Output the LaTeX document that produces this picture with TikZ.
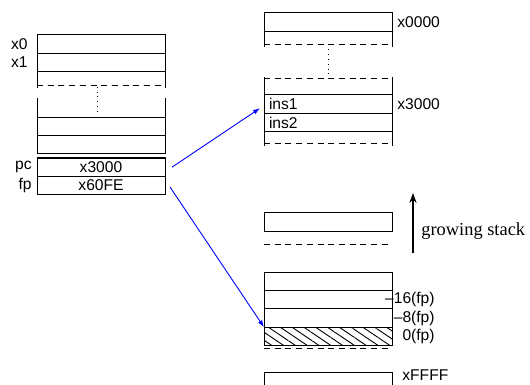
\documentclass[tikz,border=0pt]{standalone}
\usepackage{fontspec}
\setmainfont{Liberation Serif}
\setsansfont{Liberation Sans}
\usepackage{tikz}
\usetikzlibrary{positioning,patterns.meta,arrows.meta}
\tikzstyle{cell} = [draw,line width=0.5pt,minimum width=64pt,minimum height=9.2pt,
    inner sep=0pt,outer sep=0pt,font=\sffamily\fontsize{7.8}{8}\selectfont]
\tikzstyle{insn} = [cell,text width=59pt,inner xsep=2.5pt,align=left]
\tikzstyle{lbl} = [inner sep=0pt,font=\sffamily\fontsize{7.8}{8}\selectfont]
\tikzstyle{gap} = [line width=0.5pt,dash pattern=on 3pt off 2.35pt]
\tikzstyle{ptr} = [blue,line width=0.45pt,-{Latex[length=3.5pt,width=2.4pt]}]
\newcommand{\sidesdown}[2]{
	\draw[line width=0.5pt] (#1.south west) -- ++(0,#2);
	\draw[line width=0.5pt] (#1.south east) -- ++(0,#2);
}
\newcommand{\sidesup}[2]{
	\draw[line width=0.5pt] (#1.north west) -- ++(0,-#2);
	\draw[line width=0.5pt] (#1.north east) -- ++(0,-#2);
}
\newcommand{\gapbelow}[2]{
	\draw[gap] ([yshift=-#2]#1.south west) -- ([yshift=-#2]#1.south east);
}
\newcommand{\gapabove}[2]{
	\draw[gap] ([yshift=#2]#1.north west) -- ([yshift=#2]#1.north east);
}

\begin{document}
\begin{tikzpicture}[x=0.5pt,y=-0.5pt]
	\useasboundingbox (0,0) rectangle (530,385);
	\clip (0,0) rectangle (530,385);

	% registers
	\node(x0) [cell] at (101,44.2) {};
	\node(x1) [cell, below=0pt of x0] {};
	\sidesdown{x1}{16};
	\gapbelow{x1}{7pt};
	\draw[dotted] ([xshift=-2pt,yshift=-7.5pt]x1.south) -- ++(0,25);
	\node(pc) [cell] at (101,167.2) {x3000};
	\node(fp) [cell, below=0pt of pc] {x60FE};
	\node(r4) [cell, above=2pt of pc] {};
	\node(r3) [cell, above=0pt of r4] {};
	\sidesup{r3}{19};

	\node[lbl, anchor=east] at ([xshift=-4.5pt]x0.west) {x0};
	\node[lbl, anchor=east] at ([xshift=-4.5pt]x1.west) {x1};
	\node[lbl, anchor=east] at ([xshift=-2.5pt]pc.west) {pc};
	\node[lbl, anchor=east] at ([xshift=-2.5pt]fp.west) {fp};

	% memory
	\node(m0) [cell] at (328,22.2) {};
	\sidesdown{m0}{16};
	\gapbelow{m0}{6.5pt};
	\draw[dotted] ([yshift=-9pt]m0.south) -- ++(0,27);
	\node(ins1) [insn] at (328,104.2) {ins1};
	\node(ins2) [insn, below=0pt of ins1] {ins2};
	\sidesup{ins1}{18};
	\gapabove{ins1}{8pt};
	\sidesdown{ins2}{14};
	\gapbelow{ins2}{6pt};

	\node(g) [cell] at (328,222) {};
	\gapbelow{g}{6.4pt};

	\node(f3) [cell] at (328,281.2) {};
	\node(f2) [cell, below=0pt of f3] {};
	\node(f1) [cell, below=0pt of f2] {};
	\node(f0) [cell, below=0pt of f1] {};
	\pattern[pattern={Lines[angle=-34,distance=3.3pt,line width=0.45pt]}]
		(f0.south west) rectangle (f0.north east);
	\node[cell] at (f0) {};
	\gapbelow{f0}{1.5pt};
	\node(ff) [cell] at (328,381.2) {};

	\node[lbl, anchor=west] at ([xshift=2.5pt]m0.east) {x0000};
	\node[lbl, anchor=west] at ([xshift=2.5pt]ins1.east) {x3000};
	\node[lbl, anchor=east] at ([xshift=21.5pt]f2.east) {\textendash16(fp)};
	\node[lbl, anchor=east] at ([xshift=21.5pt]f1.east) {\textendash8(fp)};
	\node[lbl, anchor=east] at ([xshift=21.5pt]f0.east) {0(fp)};
	\node[lbl, anchor=west] at ([xshift=5pt,yshift=-1.5pt]ff.north east) {xFFFF};

	% growing stack
	\coordinate(grow) at (413,253);
	\draw[line width=0.6pt,-{Stealth[length=5pt,width=3.6pt]}] (grow) -- ++(0,-60);
	\node[anchor=base west, inner sep=0pt, font=\fontsize{9.2}{10}\selectfont]
		at (421,235) {growing stack};

	% pointers
	\draw[ptr] ([xshift=3.5pt]pc.east) -- ([xshift=-2pt,yshift=-2pt]ins1.west);
	\draw[ptr] ([xshift=2.5pt,yshift=-0.7pt]fp.east) -- (f0.north west);
\end{tikzpicture}
\end{document}
